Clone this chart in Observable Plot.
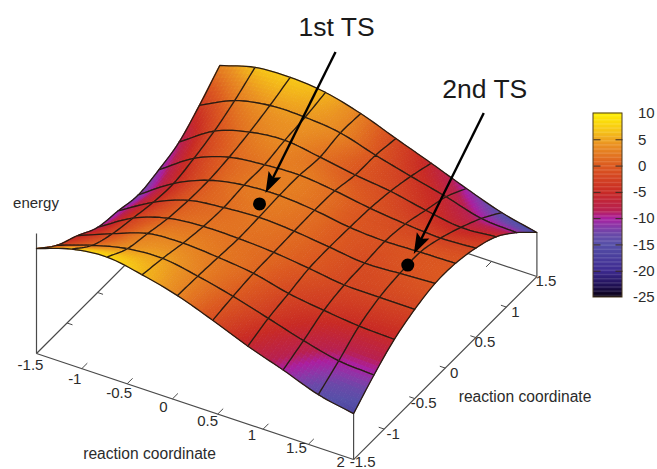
<!DOCTYPE html>
<html>
<head>
<meta charset="utf-8">
<script src="https://cdn.jsdelivr.net/npm/d3@7"></script>
<script src="https://cdn.jsdelivr.net/npm/@observablehq/plot@0.6"></script>
<style>
html,body{margin:0;padding:0;background:#fff;overflow:hidden}
svg{display:block}
</style>
</head>
<body>
<div id="chart"></div>
<script>
// Energy read at each grid node; rows run along the second coordinate (low to high)
const energyRow0 = [3,6.7,8,6,3,-1.3,-6,-10,-14.3,-16.7];
const energyRow1 = [-2.7,1.2,4,4.7,2.7,-0.1,-3.5,-7,-9.8,-10.6];
const energyRow2 = [-6.3,-1.7,2.3,3,2.2,0.8,-2,-3.7,-5,-5.5];
const energyRow3 = [-10.3,-3.3,0.6,1.8,1.7,1,-0.4,-2,-2.2,-2.3];
const energyRow4 = [-11.6,-4.8,-0.2,1.3,2,1.3,-0.1,-1.5,-1,-0.4];
const energyRow5 = [-13,-5.3,-0.3,2,2.5,1.5,-0.3,-1,-0.7,-0.5];
const energyRow6 = [-11.5,-3.7,0.6,2,2.5,1.2,-0.7,-2,-2.8,-2.2];
const energyRow7 = [-9,-1.4,2.2,3.4,1.7,-0.3,-1.8,-4.2,-6,-5.2];
const energyRow8 = [-3.5,2,4.3,4.3,3,-0.5,-3.6,-6.5,-9.8,-10.6];
const energyRow9 = [3,6.3,6.9,5.8,2.7,-1.7,-6,-10.5,-14.6,-17.3];
const energy = [energyRow0,energyRow1,energyRow2,energyRow3,energyRow4,energyRow5,energyRow6,energyRow7,energyRow8,energyRow9];

const xTicks = [-1.5,-1,-0.5,0,0.5,1,1.5,2];
const yTicks = [-1.5,-1,-0.5,0,0.5,1,1.5];
const colorTicks = [10,5,0,-5,-10,-15,-20,-25];
const tsNames = ["1st TS","2nd TS"];
const tsU = [-0.05,1.62];
const tsV = [0,-0.05];
const tsZ = [2,-0.5];

const paletteValues = [-25,-23,-20,-15,-13,-11.5,-10,-8.5,-5,0,4,6.5,10];
const paletteColors = ["#08000f","#1e0f50","#3d2a90","#5650a8","#6a48a8","#8a38a8","#aa1fa0","#b82050","#c82a24","#dc5a20","#ea9222","#f6c218","#fff000"];

// View: an oblique projection of (u, v, z) on to the picture plane
const uMin=-1.5, uMax=2, vMin=-1.5, vMax=1.5, zFloor=-32, zTop=8;
const N=energy.length-1, SUB=9;
const project=(u,v,z)=>({
  x:36+(u-uMin)*90.6+(v-vMin)*61.1,
  y:353+(u-uMin)*30.3-(v-vMin)*61-3*(z-zFloor)
});
const uAt=i=>uMin+i*(uMax-uMin)/N, vAt=j=>vMin+j*(vMax-vMin)/N;

// Smooth surface through the nodes (Catmull-Rom), for shading and mesh curves
const cr=(a,b,c,d,t)=>0.5*(2*b+(c-a)*t+(2*a-5*b+4*c-d)*t*t+(3*b-a-3*c+d)*t*t*t);
const cl=k=>Math.max(0,Math.min(N,k));
const node=(i,j)=>{
  if(i<0) return 2*energy[cl(j)][0]-energy[cl(j)][1];
  if(i>N) return 2*energy[cl(j)][N]-energy[cl(j)][N-1];
  return energy[cl(j)][i];
};
const along=(fi,j)=>{
  const i=Math.min(N-1,Math.floor(fi)), t=fi-i;
  return cr(node(i-1,j),node(i,j),node(i+1,j),node(i+2,j),t);
};
const surf=(fi,fj)=>{
  const j=Math.min(N-1,Math.floor(fj)), t=fj-j;
  const b=along(fi,j), c=along(fi,j+1);
  const a=j>0?along(fi,j-1):2*b-c;
  const d=j+2<=N?along(fi,j+2):2*c-b;
  return cr(a,b,c,d,t);
};
const pt=(fi,fj)=>{const z=surf(fi,fj);return {...project(uAt(fi),vAt(fj),z),z};};

const surfaceMarks=[];
for(let j=N-1;j>=0;j--){
  for(let i=0;i<N;i++){
    const rows=[];
    let id=0;
    for(let a=0;a<SUB;a++)for(let b=SUB-1;b>=0;b--){
      const i0=i+a/SUB,i1=i+(a+1)/SUB,j0=j+b/SUB,j1=j+(b+1)/SUB;
      const v=surf((i0+i1)/2,(j0+j1)/2);
      for(const [p,q] of [[i0,j0],[i1,j0],[i1,j1],[i0,j1]]){
        const s=pt(p,q);rows.push({id,x:s.x,y:s.y,v});
      }
      id++;
    }
    surfaceMarks.push(Plot.line(rows,{x:"x",y:"y",z:"id",fill:"v",stroke:"v",strokeWidth:0.9,curve:"linear-closed"}));
    const outline=[];
    const M=8;
    for(let k=0;k<M;k++)outline.push(pt(i+k/M,j));
    for(let k=0;k<M;k++)outline.push(pt(i+1,j+k/M));
    for(let k=0;k<M;k++)outline.push(pt(i+1-k/M,j+1));
    for(let k=0;k<M;k++)outline.push(pt(i,j+1-k/M));
    surfaceMarks.push(Plot.line(outline,{x:"x",y:"y",stroke:"#2a1c12",strokeWidth:1.3,fill:"none",curve:"linear-closed"}));
  }
}

// Floor box, its ticks and the vertical edges
const corner=(u,v,z=zFloor)=>project(u,v,z);
const seg=(a,b)=>({x1:a.x,y1:a.y,x2:b.x,y2:b.y});
const floorLines=[
  seg(corner(uMin,vMin),corner(uMax,vMin)),
  seg(corner(uMax,vMin),corner(uMax,vMax)),
  seg(corner(uMax,vMax),corner(uMin,vMax)),
  seg(corner(uMin,vMax),corner(uMin,vMin)),
  seg(corner(uMin,vMin),corner(uMin,vMin,zTop)),
  seg(corner(uMax,vMin),corner(uMax,vMin,energy[0][N])),
  seg(corner(uMax,vMax),corner(uMax,vMax,energy[N][N]))
];
const floorTicks=[
  ...xTicks.slice(1,-1).flatMap(t=>[seg(corner(t,vMin),corner(t,vMin+0.09)),seg(corner(t,vMax),corner(t,vMax-0.09))]),
  ...yTicks.slice(1,-1).flatMap(t=>[seg(corner(uMin,t),corner(uMin+0.06,t)),seg(corner(uMax,t),corner(uMax-0.06,t))])
];
const xLabels=xTicks.map(t=>{const p=corner(t,vMin);return {t,x:p.x-6-2*(t-uMin),y:p.y+12-2.6*(t-uMin)};});
const yLabels=yTicks.map(t=>{const p=corner(uMax,t);return {t,x:p.x+9,y:p.y+(t===-1.5?3:5)};});

// Transition states with their call-out arrows
const ts=tsNames.map((name,k)=>({name,...project(tsU[k],tsV[k],tsZ[k])}));
const callout=ts.map(d=>{
  const tip={x:d.x+6,y:d.y-11}, from={x:d.x+76,y:d.y-152};
  const L=Math.hypot(from.x-tip.x,from.y-tip.y), ux=(from.x-tip.x)/L, uy=(from.y-tip.y)/L;
  const neck={x:tip.x+ux*21,y:tip.y+uy*21}, hw=7;
  return {name:d.name,tip,from,head:[
    {name:d.name,x:tip.x,y:tip.y},
    {name:d.name,x:neck.x-uy*hw,y:neck.y+ux*hw},
    {name:d.name,x:tip.x+ux*17,y:tip.y+uy*17},
    {name:d.name,x:neck.x+uy*hw,y:neck.y-ux*hw}]};
});

// Colour bar
const barX1=593, barX2=622, barTop=113, barBottom=297;
const barY=v=>barBottom-(v+25)*(barBottom-barTop)/35;
const barSteps=d3.range(-25,10,0.25);
const sans="Liberation Sans, Arial, sans-serif", ink="#2b2b2b", axisInk="#4a4a4a";

const plot=Plot.plot({
  width:657,height:469,margin:0,
  style:{background:"#fff",overflow:"hidden"},
  x:{axis:null,domain:[0,657],range:[0,657]},
  y:{axis:null,domain:[0,469],range:[0,469]},
  color:{type:"linear",domain:paletteValues,range:paletteColors,clamp:true,interpolate:"rgb"},
  marks:[
    Plot.link(floorLines,{x1:"x1",y1:"y1",x2:"x2",y2:"y2",stroke:axisInk,strokeWidth:1.2}),
    Plot.link(floorTicks,{x1:"x1",y1:"y1",x2:"x2",y2:"y2",stroke:axisInk,strokeWidth:1}),
    ...surfaceMarks,
    Plot.dot(ts,{x:"x",y:"y",r:6.5,fill:"#000",stroke:"none"}),
    Plot.link(callout,{x1:d=>d.from.x,y1:d=>d.from.y,x2:d=>d.tip.x+(d.from.x-d.tip.x)*0.1,y2:d=>d.tip.y+(d.from.y-d.tip.y)*0.1,stroke:"#000",strokeWidth:2.4}),
    ...callout.map(c=>Plot.line(c.head,{x:"x",y:"y",fill:"#000",stroke:"none",curve:"linear-closed"})),
    Plot.text(callout,{x:d=>d.from.x+1,y:d=>d.from.y-24,text:"name",fontSize:26.5,fontFamily:sans,fill:"#1a1a1a"}),
    Plot.text(xLabels,{x:"x",y:"y",text:d=>String(d.t),fontSize:15,fontFamily:sans,fill:ink}),
    Plot.text(yLabels,{x:"x",y:"y",text:d=>String(d.t),fontSize:15,fontFamily:sans,fill:ink}),
    Plot.text(["energy"],{x:()=>35.5,y:()=>203,text:d=>d,fontSize:15,fontFamily:sans,fill:ink}),
    Plot.text(["reaction coordinate"],{x:()=>149,y:()=>453,text:d=>d,fontSize:15.6,fontFamily:sans,fill:ink}),
    Plot.text(["reaction coordinate"],{x:()=>524.5,y:()=>396,text:d=>d,fontSize:15.6,fontFamily:sans,fill:ink}),
    Plot.rect(barSteps,{x1:()=>barX1,x2:()=>barX2,y1:v=>barY(v),y2:v=>barY(v+0.25)-0.3,fill:v=>v+0.125}),
    Plot.rect([0],{x1:()=>barX1,x2:()=>barX2,y1:()=>barTop,y2:()=>barBottom,fill:"none",stroke:"#4a3a20",strokeWidth:1}),
    Plot.link(colorTicks.slice(1,-1),{x1:()=>barX1,x2:()=>barX1+7,y1:v=>barY(v),y2:v=>barY(v),stroke:"#3a2a20",strokeWidth:1}),
    Plot.link(colorTicks.slice(1,-1),{x1:()=>barX2-7,x2:()=>barX2,y1:v=>barY(v),y2:v=>barY(v),stroke:"#3a2a20",strokeWidth:1}),
    Plot.text(colorTicks,{x:v=>v<0?632.5:637.5,y:v=>barY(v),text:v=>String(v),textAnchor:"start",fontSize:15,fontFamily:sans,fill:ink})
  ]
});
document.getElementById("chart").append(plot);
</script>
</body>
</html>
